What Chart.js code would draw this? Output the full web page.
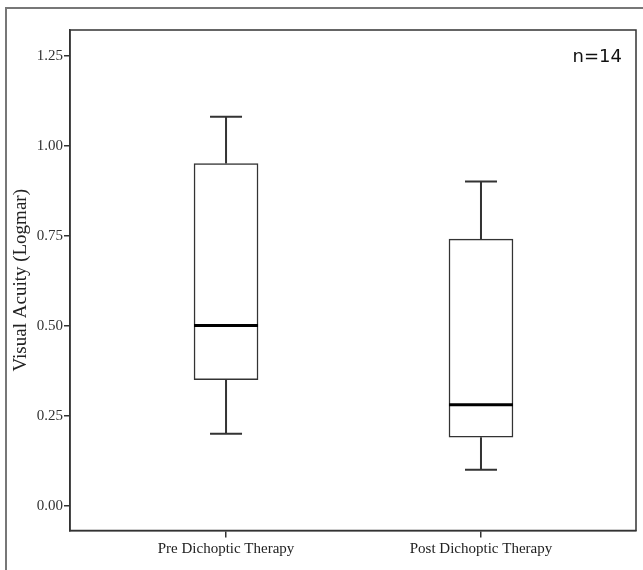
<!DOCTYPE html>
<html>
<head>
<meta charset="utf-8">
<script src="https://cdn.jsdelivr.net/npm/chart.js@4"></script>
<style>
  body { margin: 0; background: #fff; }
  #wrap { width: 643px; height: 570px; }
</style>
</head>
<body>
<div id="wrap"><canvas id="acuity_box" width="643" height="570"></canvas></div>
<script>
// box plot values (logMAR)
var groups = ['Pre Dichoptic Therapy', 'Post Dichoptic Therapy'];
var mins    = [0.20, 0.10];
var q1s     = [0.35, 0.19];
var medians = [0.50, 0.28];
var q3s     = [0.95, 0.74];
var maxs    = [1.08, 0.90];
var yTicks  = [0, 0.25, 0.5, 0.75, 1, 1.25];
var sampleNote = 'n=14';

var ink = '#333';

// outer frame of the figure (left and top edge only)
var outerFrame = {
  id: 'outerFrame',
  beforeDraw: function (chart) {
    var c = chart.ctx;
    c.save();
    c.strokeStyle = '#777';
    c.lineWidth = 2;
    c.beginPath();
    c.moveTo(6, 570);
    c.lineTo(6, 8);
    c.lineTo(643, 8);
    c.stroke();
    c.restore();
  }
};

// whiskers, caps, median, plot frame and n label
var boxParts = {
  id: 'boxParts',
  afterDatasetsDraw: function (chart) {
    var c = chart.ctx, x = chart.scales.x, y = chart.scales.y, a = chart.chartArea;
    c.save();
    c.strokeStyle = ink;
    c.lineWidth = 2;
    for (var i = 0; i < groups.length; i++) {
      var px = x.getPixelForValue(i);
      c.beginPath();
      c.moveTo(px, y.getPixelForValue(q3s[i]));
      c.lineTo(px, y.getPixelForValue(maxs[i]));
      c.moveTo(px, y.getPixelForValue(q1s[i]));
      c.lineTo(px, y.getPixelForValue(mins[i]));
      c.moveTo(px - 16, y.getPixelForValue(maxs[i]));
      c.lineTo(px + 16, y.getPixelForValue(maxs[i]));
      c.moveTo(px - 16, y.getPixelForValue(mins[i]));
      c.lineTo(px + 16, y.getPixelForValue(mins[i]));
      c.stroke();
      c.save();
      c.strokeStyle = '#000';
      c.lineWidth = 3;
      c.beginPath();
      c.moveTo(px - 32, y.getPixelForValue(medians[i]));
      c.lineTo(px + 32, y.getPixelForValue(medians[i]));
      c.stroke();
      c.restore();
    }
    c.lineWidth = 1.5;
    c.strokeRect(a.left, a.top, a.right - a.left, a.bottom - a.top);
    c.fillStyle = '#111';
    c.font = '18px "DejaVu Sans"';
    c.textAlign = 'right';
    c.textBaseline = 'middle';
    c.fillText(sampleNote, a.right - 14, a.top + 27);
    c.restore();
  }
};

var ctx = document.getElementById('acuity_box').getContext('2d');
var myChart = new Chart(ctx, {
  type: 'bar',
  data: {
    datasets: [{
      label: 'IQR',
      data: groups.map(function (g, i) { return { x: i, y: [q1s[i], q3s[i]] }; }),
      backgroundColor: '#fff',
      borderColor: ink,
      borderWidth: 1.5,
      borderSkipped: false,
      barThickness: 64,
    }],
  },
  options: {
    responsive: false,
    animation: false,
    layout: { padding: { left: 9, top: 30, right: 7, bottom: 0 } },
    plugins: {
      legend: { display: false },
      tooltip: { enabled: false },
    },
    scales: {
      x: {
        type: 'linear',
        offset: false,
        min: -0.612,
        max: 1.608,
        afterBuildTicks: function (s) { s.ticks = groups.map(function (g, i) { return { value: i }; }); },
        afterFit: function (s) { s.height = 39.5; },
        grid: { offset: false, drawOnChartArea: false, tickLength: 7, color: ink, lineWidth: 1.5 },
        border: { color: ink, width: 1.5 },
        ticks: {
          color: '#222',
          padding: 3,
          maxRotation: 0,
          font: { family: '"Liberation Serif"', size: 15 },
          callback: function (v) { return groups[v]; },
        },
      },
      y: {
        min: -0.069,
        max: 1.321,
        afterBuildTicks: function (s) { s.ticks = yTicks.map(function (v) { return { value: v }; }); },
        afterFit: function (s) { s.width = 61; },
        grid: { drawOnChartArea: false, tickLength: 6, color: ink, lineWidth: 1.5 },
        border: { color: ink, width: 1.5 },
        ticks: {
          color: '#333',
          padding: 1,
          font: { family: '"Liberation Serif"', size: 15 },
          callback: function (v) { return v.toFixed(2); },
        },
        title: {
          display: true,
          text: 'Visual Acuity (Logmar)',
          color: '#222',
          padding: { top: 1, bottom: 0 },
          font: { family: '"Liberation Serif"', size: 19 },
        },
      },
    },
  },
  plugins: [outerFrame, boxParts],
});
</script>
</body>
</html>
